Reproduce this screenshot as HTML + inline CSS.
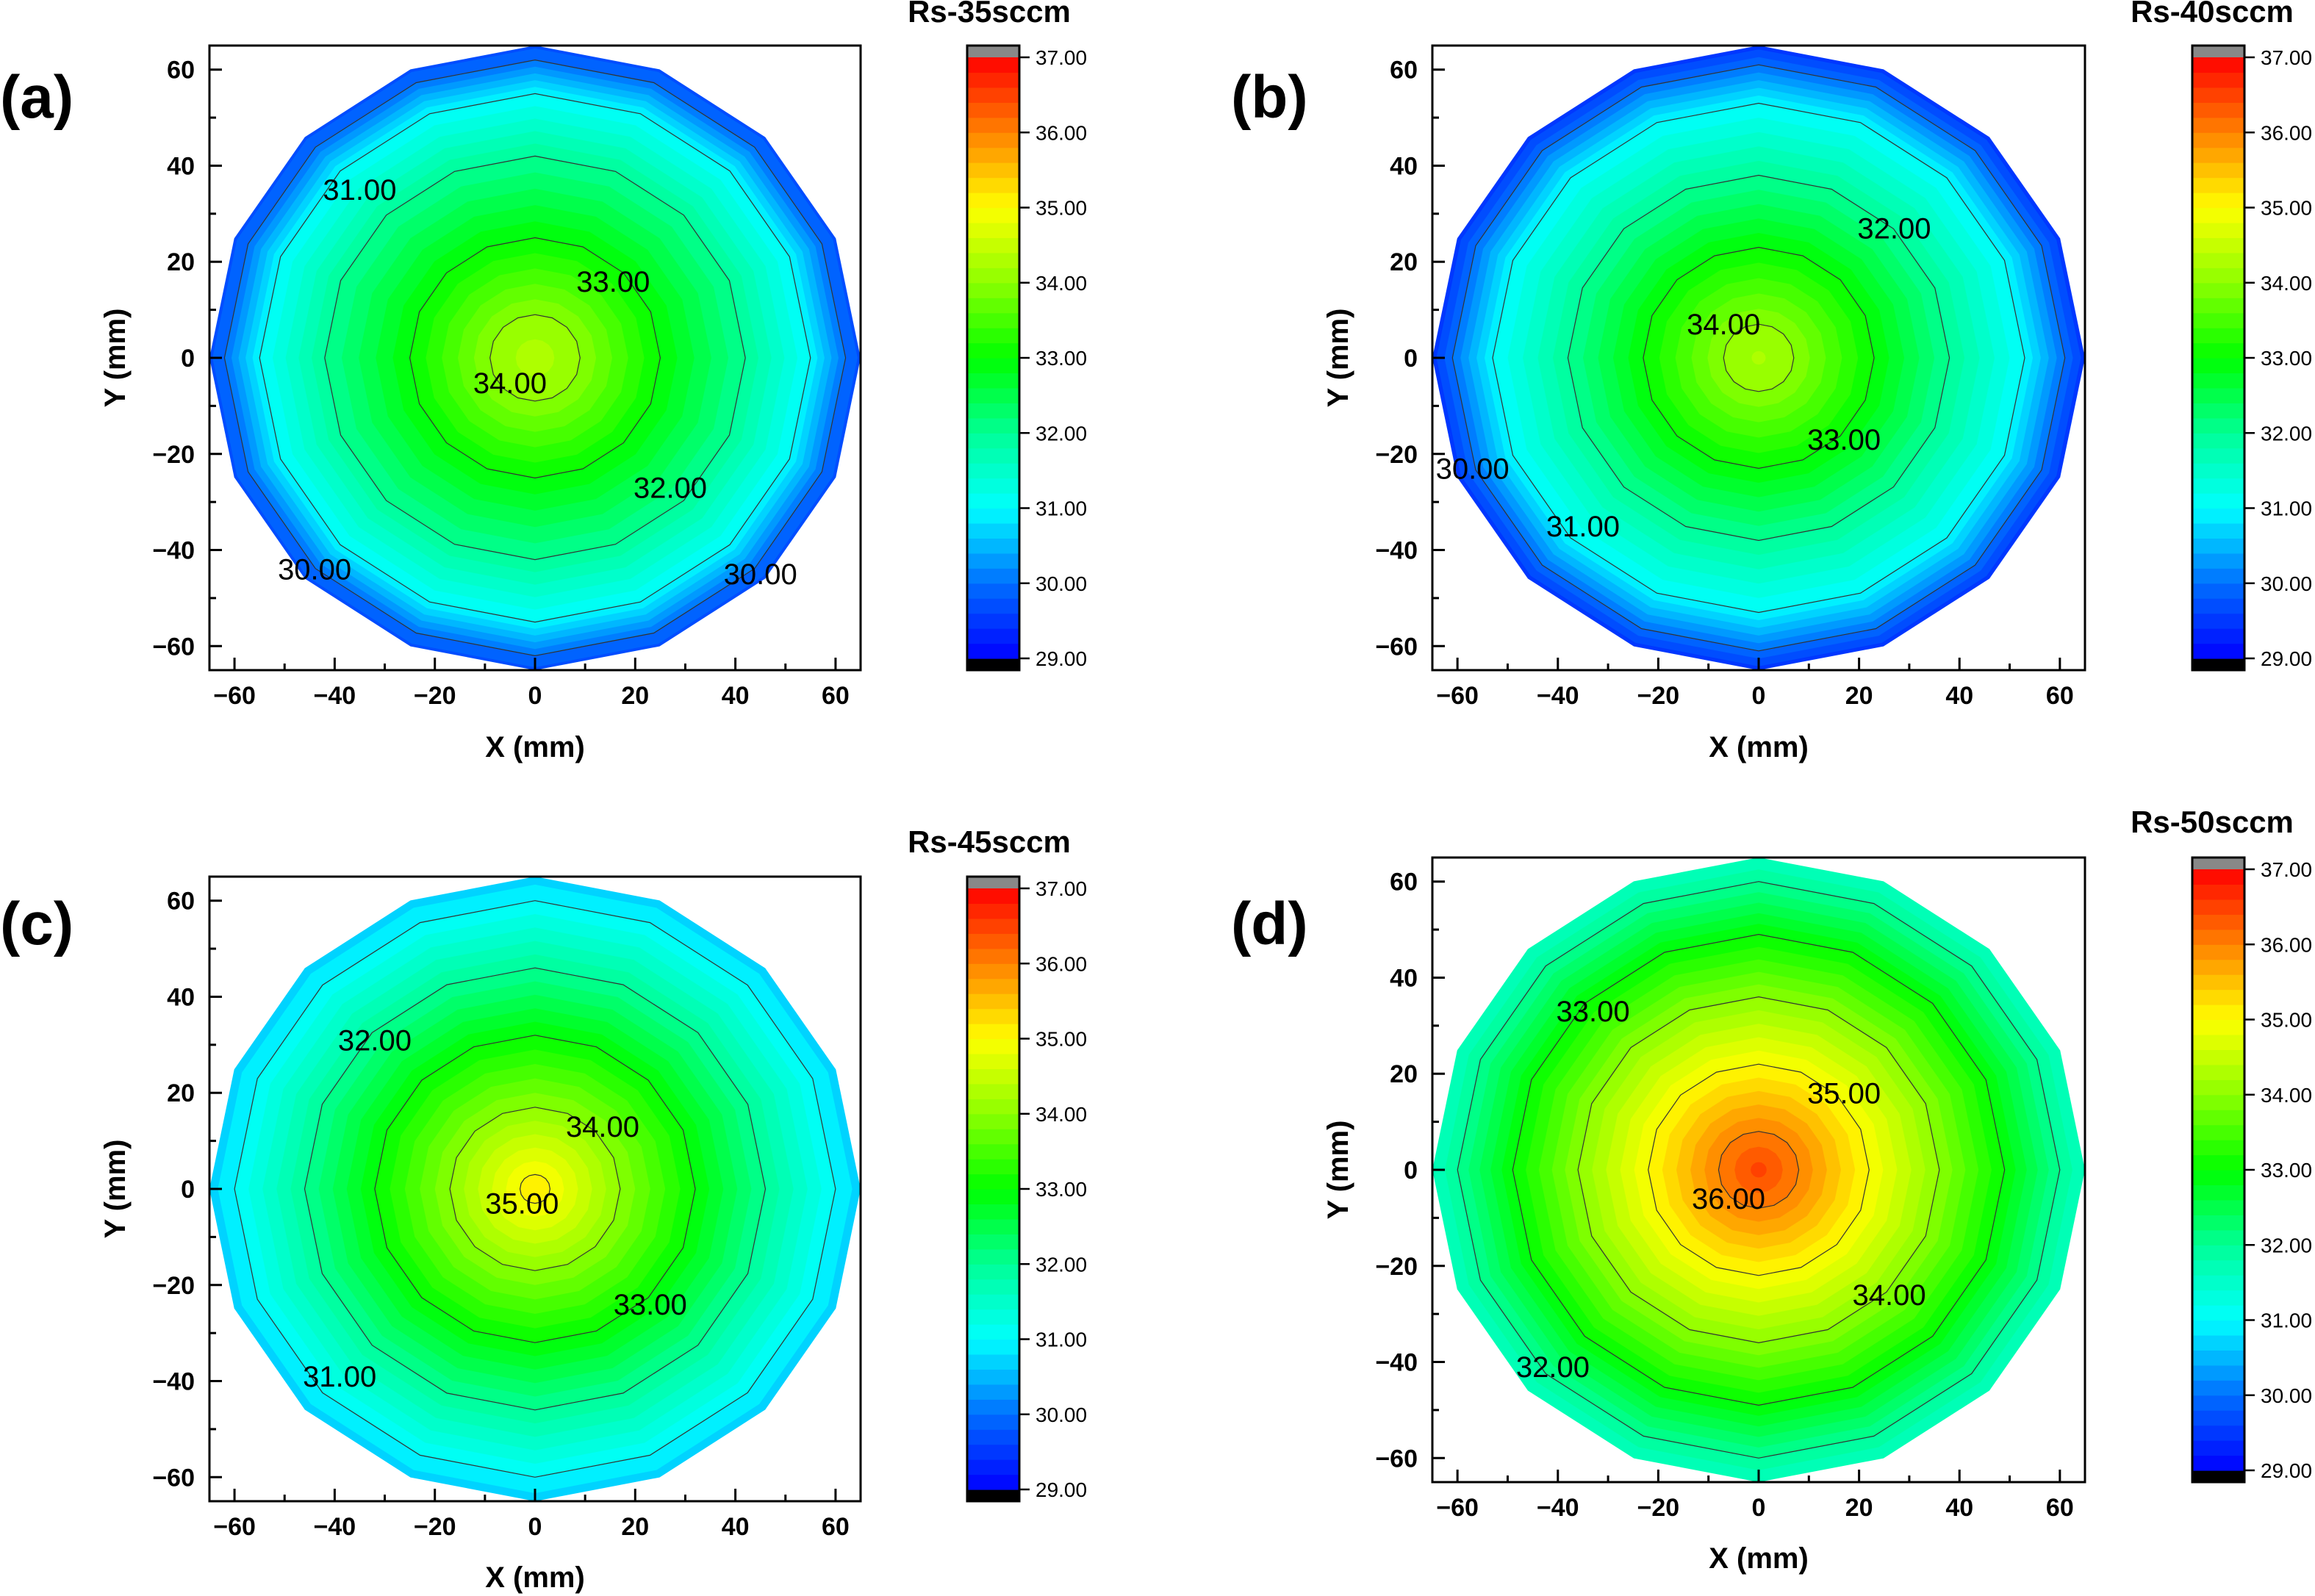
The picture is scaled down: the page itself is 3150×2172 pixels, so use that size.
<!DOCTYPE html>
<html><head><meta charset="utf-8"><style>
html,body{margin:0;padding:0;background:#fff;}
svg{display:block;font-family:"Liberation Sans",Arial,sans-serif;}
</style></head><body>
<svg id="fig" width="3150" height="2172" viewBox="0 0 3150 2172" xmlns="http://www.w3.org/2000/svg"></svg>
<script>
// ---- data ----
const radiiA = [0, 9, 25, 42, 55, 62, 65];
const valuesA = [34.35, 34, 33, 32, 31, 30, 29.75];
const radiiB = [0, 7, 23, 38, 53, 61, 65];
const valuesB = [34.25, 34, 33, 32, 31, 30, 29.5];
const radiiC = [0, 3, 17, 32, 46, 60, 65];
const valuesC = [35.1, 35, 34, 33, 32, 31, 30.7];
const radiiD = [0, 8, 22, 36, 49, 60, 65];
const valuesD = [36.5, 36, 35, 34, 33, 32, 31.6];
const titles = ["Rs-35sccm", "Rs-40sccm", "Rs-45sccm", "Rs-50sccm"];
const panelLetters = ["(a)", "(b)", "(c)", "(d)"];
const labelTextA = ["31.00","33.00","34.00","32.00","30.00","30.00"];
const labelXA = [-35, 15.6, -5, 27, -44, 45];
const labelYA = [35, 15.9, -5.2, -27, -44, -45];
const labelTextB = ["32.00","34.00","33.00","30.00","31.00"];
const labelXB = [27, -7, 17, -57, -35];
const labelYB = [27, 7, -17, -23, -35];
const labelTextC = ["32.00","34.00","35.00","33.00","31.00"];
const labelXC = [-32, 13.5, -2.6, 23, -39];
const labelYC = [31, 13, -3, -24, -39];
const labelTextD = ["33.00","35.00","36.00","34.00","32.00"];
const labelXD = [-33, 17, -6, 26, -41];
const labelYD = [33, 16, -6, -26, -41];
const axisTicks = [-60, -40, -20, 0, 20, 40, 60];
const minorTicks = [-50, -30, -10, 10, 30, 50];
const cbarTicks = [29, 30, 31, 32, 33, 34, 35, 36, 37];
const cmapVals = [29, 30, 31, 32, 33, 34, 35, 36, 37];
const cmapCols = [[0,0,255],[0,110,255],[0,255,255],[0,255,150],[0,255,0],[140,255,0],[255,255,0],[255,130,0],[255,0,0]];

const NS = "http://www.w3.org/2000/svg";
const svg = document.getElementById("fig");
function mk(tag, attrs, parent) {
  const e = document.createElementNS(NS, tag);
  for (const k in attrs) e.setAttribute(k, attrs[k]);
  (parent || svg).appendChild(e);
  return e;
}
function cmap(v) {
  if (v <= cmapVals[0]) return cmapCols[0];
  for (let i = 1; i < cmapVals.length; i++) {
    if (v <= cmapVals[i]) {
      const t = (v - cmapVals[i-1]) / (cmapVals[i] - cmapVals[i-1]);
      return cmapCols[i-1].map((c, j) => Math.round(c + t * (cmapCols[i][j] - c)));
    }
  }
  return cmapCols[cmapCols.length-1];
}
function bandColor(v) {
  const b = Math.floor((v - 29) / 0.2);
  const mid = 29 + (Math.max(0, Math.min(39, b)) + 0.5) * 0.2;
  const c = cmap(mid);
  return "rgb(" + c.join(",") + ")";
}
function radiusAt(radii, vals, L) {
  for (let i = 1; i < radii.length; i++) {
    if (L >= vals[i]) {
      const t = (vals[i-1] - L) / (vals[i-1] - vals[i]);
      return radii[i-1] + t * (radii[i] - radii[i-1]);
    }
  }
  return radii[radii.length-1];
}
const fmt = v => (v < 0 ? "\u2212" + Math.abs(v) : "" + v);

const layouts = [
  {x0:285, x1:1171, y0:62, y1:912, cbx:1316, title:{x:1346,y:30}, let:{x:0,y:160}, xt:{y:1030}, radii:radiiA, vals:valuesA, lt:labelTextA, lx:labelXA, ly:labelYA},
  {x0:1949, x1:2837, y0:62, y1:912, cbx:2983, title:{x:3010,y:30}, let:{x:1675,y:160}, xt:{y:1030}, radii:radiiB, vals:valuesB, lt:labelTextB, lx:labelXB, ly:labelYB},
  {x0:285, x1:1171, y0:1193, y1:2043, cbx:1316, title:{x:1346,y:1160}, let:{x:0,y:1285}, xt:{y:2160}, radii:radiiC, vals:valuesC, lt:labelTextC, lx:labelXC, ly:labelYC},
  {x0:1949, x1:2837, y0:1167, y1:2017, cbx:2983, title:{x:3010,y:1133}, let:{x:1675,y:1285}, xt:{y:2134}, radii:radiiD, vals:valuesD, lt:labelTextD, lx:labelXD, ly:labelYD}
];

layouts.forEach((p, pi) => {
  const g = mk("g", {});
  
  
  const sx = v => p.x0 + (v + 65) / 130 * (p.x1 - p.x0);
  const sy = v => p.y1 - (v + 65) / 130 * (p.y1 - p.y0);
  const poly = r => {
    const pts = [];
    for (let k = 0; k < 16; k++) {
      const th = k * Math.PI / 8;
      pts.push(sx(r * Math.sin(th)).toFixed(1) + "," + sy(r * Math.cos(th)).toFixed(1));
    }
    return pts.join(" ");
  };
  const edge = p.vals[p.vals.length-1], center = p.vals[0];
  const wafer = mk("polygon", {points: poly(65), fill: bandColor(edge + 1e-6)}, g);
  
  
  let L = Math.ceil((edge + 1e-6) / 0.2) * 0.2;
  while (L < center) {
    const r = radiusAt(p.radii, p.vals, L);
    const b = mk("polygon", {points: poly(r), fill: bandColor(L + 0.1)}, g);
    
    
    L += 0.2;
  }
  for (let lv = Math.ceil(edge); lv < center; lv++) {
    const r = radiusAt(p.radii, p.vals, lv);
    const c = mk("polygon", {points: poly(r), fill: "none", stroke: "#333", "stroke-width": 1.2}, g);
    
    
  }
  p.lt.forEach((t, i) => {
    const tx = mk("text", {x: sx(p.lx[i]), y: sy(p.ly[i]) + 14, "font-size": 40, "text-anchor": "middle", fill: "#000"}, g);
    tx.textContent = t;
    
    
  });
  const fr = mk("rect", {x: p.x0, y: p.y0, width: p.x1 - p.x0, height: p.y1 - p.y0, fill: "none", stroke: "#000", "stroke-width": 3}, g);
  
  
  axisTicks.forEach(v => {
    mk("line", {x1: sx(v), x2: sx(v), y1: p.y1, y2: p.y1 - 17, stroke: "#000", "stroke-width": 3}, g);
    mk("line", {x1: p.x0, x2: p.x0 + 17, y1: sy(v), y2: sy(v), stroke: "#000", "stroke-width": 3}, g);
    const xl = mk("text", {x: sx(v), y: p.y1 + 46, "font-size": 34, "font-weight": "bold", "text-anchor": "middle"}, g);
    xl.textContent = fmt(v);
    
    
    const yl = mk("text", {x: p.x0 - 20, y: sy(v) + 12, "font-size": 34, "font-weight": "bold", "text-anchor": "end"}, g);
    yl.textContent = fmt(v);
    
    
  });
  minorTicks.forEach(v => {
    mk("line", {x1: sx(v), x2: sx(v), y1: p.y1, y2: p.y1 - 9, stroke: "#000", "stroke-width": 3}, g);
    mk("line", {x1: p.x0, x2: p.x0 + 9, y1: sy(v), y2: sy(v), stroke: "#000", "stroke-width": 3}, g);
  });
  const xt = mk("text", {x: (p.x0 + p.x1) / 2, y: p.xt.y, "font-size": 40, "font-weight": "bold", "text-anchor": "middle"}, g);
  xt.textContent = "X (mm)";
  
  
  const ycx = p.x0 - 115, ycy = (p.y0 + p.y1) / 2;
  const yt = mk("text", {x: ycx, y: ycy, "font-size": 40, "font-weight": "bold", "text-anchor": "middle", transform: "rotate(-90 " + ycx + " " + ycy + ")"}, g);
  yt.textContent = "Y (mm)";
  
  
  const lt = mk("text", {x: p.let.x, y: p.let.y, "font-size": 82, "font-weight": "bold"}, g);
  lt.textContent = panelLetters[pi];
  
  
  const cb = mk("g", {}, g);
  
  
  const cx0 = p.cbx, cw = 71, top = p.y0 + 16, bot = p.y1 - 16;
  const cy = v => bot - (v - 29) / 8 * (bot - top);
  mk("rect", {x: cx0, y: p.y0, width: cw, height: 16, fill: "#888"}, cb);
  mk("rect", {x: cx0, y: bot, width: cw, height: 16, fill: "#000"}, cb);
  for (let i = 0; i < 40; i++) {
    const v = 29 + i * 0.2;
    mk("rect", {x: cx0, y: cy(v + 0.2), width: cw, height: cy(v) - cy(v + 0.2) + 0.6, fill: bandColor(v + 0.1)}, cb);
  }
  mk("rect", {x: cx0, y: p.y0, width: cw, height: p.y1 - p.y0, fill: "none", stroke: "#000", "stroke-width": 3}, cb);
  cbarTicks.forEach(v => {
    mk("line", {x1: cx0 + cw, x2: cx0 + cw + 14, y1: cy(v), y2: cy(v), stroke: "#000", "stroke-width": 2.5}, cb);
    const t = mk("text", {x: cx0 + cw + 22, y: cy(v) + 10, "font-size": 28}, cb);
    t.textContent = v.toFixed(2);
    
    
  });
  const ti = mk("text", {x: p.title.x, y: p.title.y, "font-size": 42, "font-weight": "bold", "text-anchor": "middle"}, g);
  ti.textContent = titles[pi];
  
  
});
</script>
</body></html>
